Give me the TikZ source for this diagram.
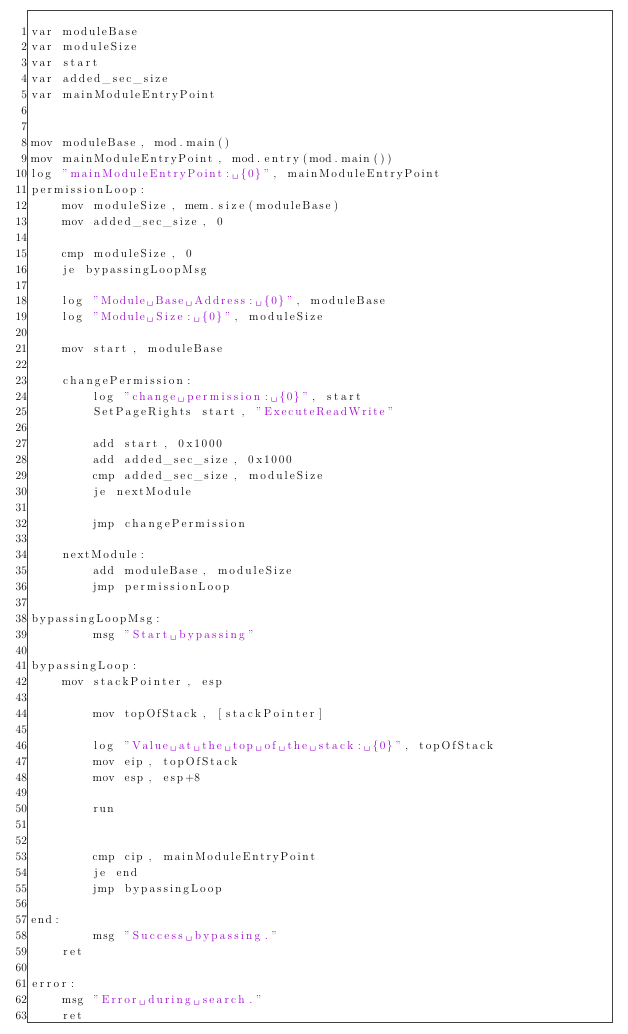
\begin{filecontents*}[overwrite]{code.txt}
var moduleBase
var moduleSize
var start
var added_sec_size
var mainModuleEntryPoint


mov moduleBase, mod.main()
mov mainModuleEntryPoint, mod.entry(mod.main())
log "mainModuleEntryPoint: {0}", mainModuleEntryPoint
permissionLoop:
    mov moduleSize, mem.size(moduleBase)
    mov added_sec_size, 0

    cmp moduleSize, 0
    je bypassingLoopMsg

    log "Module Base Address: {0}", moduleBase
    log "Module Size: {0}", moduleSize

    mov start, moduleBase

    changePermission:
        log "change permission: {0}", start
        SetPageRights start, "ExecuteReadWrite"

        add start, 0x1000
        add added_sec_size, 0x1000
        cmp added_sec_size, moduleSize
        je nextModule

        jmp changePermission

    nextModule:
        add moduleBase, moduleSize
        jmp permissionLoop

bypassingLoopMsg:
        msg "Start bypassing"

bypassingLoop:
    mov stackPointer, esp

        mov topOfStack, [stackPointer]

        log "Value at the top of the stack: {0}", topOfStack
        mov eip, topOfStack
        mov esp, esp+8

        run


        cmp cip, mainModuleEntryPoint
        je end
        jmp bypassingLoop

end:
        msg "Success bypassing."
    ret

error:
    msg "Error during search."
    ret
\end{filecontents*}
\documentclass[tikz,border=0pt]{standalone}
\usepackage{fontspec}
\usepackage{xcolor}
\usepackage{listings}
\definecolor{strcol}{RGB}{155,0,205}
\lstset{
  basicstyle=\fontsize{11.5}{15.87}\selectfont,
  columns=fixed, basewidth=7.75pt,
  stringstyle=\color{strcol},
  morestring=[b]",
  showstringspaces=true,
  numbers=left, numbersep=3pt,
  numberstyle=\fontsize{11.5}{15.87}\selectfont,
  aboveskip=0pt, belowskip=0pt,
  xleftmargin=0pt, framexleftmargin=0pt,
  tabsize=4
}
\begin{document}
\begin{tikzpicture}[x=1pt,y=1pt,
  framebox/.style={draw=black!75, line width=0.6pt},
  codebox/.style={anchor=north west, inner sep=0pt, outer sep=0pt}]
\useasboundingbox (0,0) rectangle (627,-1034);
\draw[framebox] (27,-10) rectangle (612,-1022);
\node[codebox] (code) at (30,-24) {\begin{minipage}{570pt}\lstinputlisting{code.txt}\end{minipage}};
\end{tikzpicture}
\end{document}
